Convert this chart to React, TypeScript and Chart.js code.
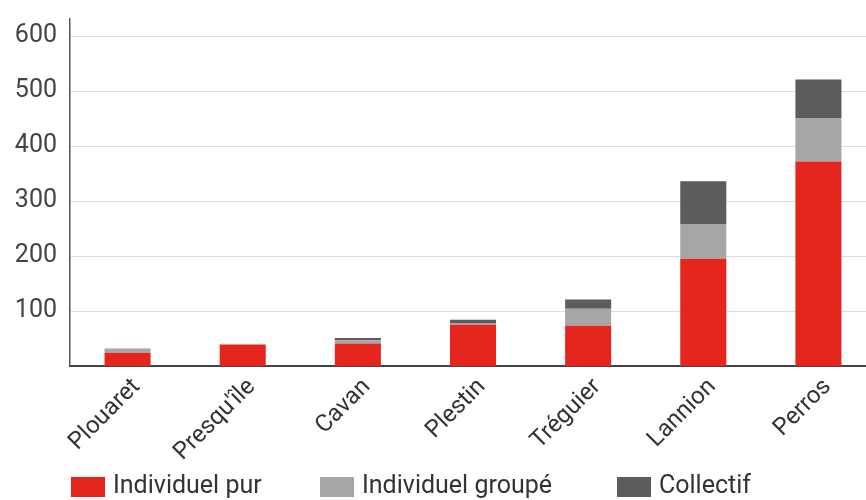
import React, { useEffect, useRef } from "react";
import { Chart, registerables } from "chart.js";

Chart.register(...registerables);

const categories = ["Plouaret", "Presqu'île", "Cavan", "Plestin", "Tréguier", "Lannion", "Perros"];
const individuelPur = [24, 39, 41, 75, 73, 195, 372];
const individuelGroupe = [8, 0, 6, 3, 31, 63, 79];
const collectif = [0, 0, 4, 6, 17, 78, 70];
const yTickValues = [100, 200, 300, 400, 500, 600];
const seriesLabels = ["Individuel pur", "Individuel groupé", "Collectif"];
const seriesColors = ["#e4261f", "#a6a6a7", "#5d5b5e"];

// layout constants (not data)
const LEGEND_X = [71, 320, 617];
const LEGEND_BOX_TOP = 477;

const legendPlugin = {
  id: "customLegend",
  afterDraw(chart: any) {
    const ctx = chart.ctx;
    ctx.save();
    ctx.font = "25px Roboto";
    ctx.textBaseline = "middle";
    ctx.textAlign = "left";
    chart.data.datasets.forEach((ds: any, i: number) => {
      const x = LEGEND_X[i];
      ctx.fillStyle = ds.backgroundColor;
      ctx.fillRect(x, LEGEND_BOX_TOP, 34, 20);
      ctx.fillStyle = "#333333";
      ctx.fillText(ds.label, x + 42, LEGEND_BOX_TOP + 10);
    });
    ctx.restore();
  },
};

export default function App() {
  const ref = useRef<HTMLCanvasElement | null>(null);

  useEffect(() => {
    let chart: Chart | null = null;
    let cancelled = false;
    const make = () => {
      if (cancelled || !ref.current) return;
      chart = new Chart(ref.current, {
        type: "bar",
        data: {
          labels: categories,
          datasets: [individuelPur, individuelGroupe, collectif].map((d, i) => ({
            label: seriesLabels[i],
            data: d,
            backgroundColor: seriesColors[i],
            borderWidth: 0,
            categoryPercentage: 0.8,
            barPercentage: 0.5,
          })),
        },
        options: {
          responsive: false,
          animation: false,
          devicePixelRatio: 1,
          layout: { padding: { top: 19, right: 4, left: 0, bottom: 0 } },
          plugins: { legend: { display: false }, tooltip: { enabled: false } },
          scales: {
            x: {
              stacked: true,
              grid: { display: false, drawTicks: false },
              border: { display: true, color: "#444444", width: 2 },
              ticks: {
                color: "#333333",
                font: { family: "Roboto", size: 24 },
                maxRotation: 45,
                minRotation: 45,
                padding: 7,
                labelOffset: 9,
              },
              afterFit: (s: any) => {
                s.height = 134;
                s.paddingLeft = 0;
                s.paddingRight = 0;
              },
            },
            y: {
              stacked: true,
              min: 0,
              max: 631,
              grid: { color: "#dddddd", lineWidth: 1, drawTicks: false },
              border: { display: true, color: "#555555", width: 1.5 },
              ticks: {
                color: "#444444",
                font: { family: "Roboto", size: 25 },
                padding: 13,
              },
              afterBuildTicks: (s: any) => {
                s.ticks = yTickValues.map((v) => ({ value: v }));
              },
              afterFit: (s: any) => {
                s.width = 70;
                s.paddingTop = 0;
                s.paddingBottom = 0;
              },
            },
          },
        },
        plugins: [legendPlugin],
      });
    };
    const fonts: any = (document as any).fonts;
    if (fonts && fonts.load) {
      Promise.all([fonts.load("25px Roboto"), fonts.load("24px Roboto")]).then(make, make);
    } else {
      make();
    }
    return () => {
      cancelled = true;
      if (chart) chart.destroy();
    };
  }, []);

  return (
    <div
      style={{
        position: "fixed",
        left: 0,
        top: 0,
        width: 866,
        height: 500,
        overflow: "hidden",
        background: "#ffffff",
      }}
    >
      <canvas ref={ref} width={880} height={500} style={{ width: 880, height: 500, display: "block" }} />
    </div>
  );
}
